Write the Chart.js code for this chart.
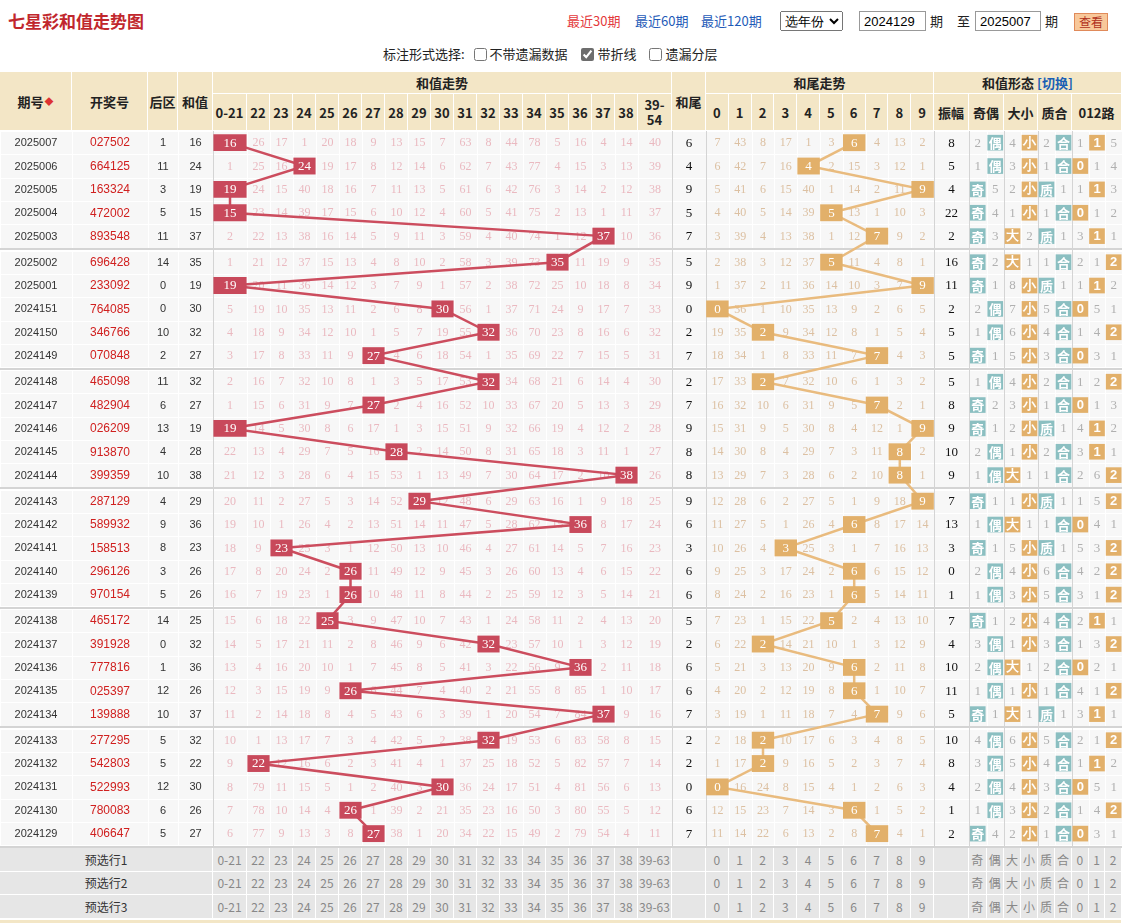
<!DOCTYPE html>
<html><head><meta charset="utf-8">
<script src="https://cdn.jsdelivr.net/npm/chart.js@4.4.1/dist/chart.umd.min.js"></script>
<style>
body{margin:0;background:#fff;font-family:"Noto Sans CJK SC","Noto Sans",sans-serif;}
#page{position:relative;width:1122px;height:924px;overflow:hidden;background:#fff;}
.a{position:absolute;white-space:nowrap;}
.hc{position:absolute;box-sizing:border-box;background:#f3e6c6;border-right:1px solid #fff;border-bottom:1px solid #fff;display:flex;align-items:center;justify-content:center;font-weight:bold;font-size:13px;color:#222;text-align:center;line-height:15px;}
.fc{position:absolute;box-sizing:border-box;background:#e6e6e6;border-right:1px solid #fff;border-bottom:1px solid #fff;display:flex;align-items:center;justify-content:center;font-size:12px;color:#888;}
#body{position:absolute;left:0;top:131px;}
input[type=checkbox]{accent-color:#6d6d6d;}
</style></head>
<body><div id="page">
<div class="a" style="left:8px;top:8px;font-size:17px;font-weight:bold;color:#c1272d;">七星彩和值走势图</div>
<div class="a" style="left:567px;top:11px;font-size:13px;color:#e4393c;">最近30期</div>
<div class="a" style="left:635px;top:11px;font-size:13px;color:#1e5bb8;">最近60期</div>
<div class="a" style="left:701px;top:11px;font-size:13px;color:#1e5bb8;">最近120期</div>
<select class="a" style="left:780px;top:11px;width:63px;height:20px;font-size:13px;padding:0;"><option>选年份</option></select>
<input class="a" style="left:859px;top:11px;width:67px;height:20px;box-sizing:border-box;font-size:13px;padding:0 4px;border:1px solid #999;" value="2024129">
<div class="a" style="left:930px;top:11px;font-size:13px;color:#222;">期</div>
<div class="a" style="left:957px;top:11px;font-size:13px;color:#222;">至</div>
<input class="a" style="left:975px;top:11px;width:66px;height:20px;box-sizing:border-box;font-size:13px;padding:0 4px;border:1px solid #999;" value="2025007">
<div class="a" style="left:1045px;top:11px;font-size:13px;color:#222;">期</div>
<div class="a" style="left:1074px;top:13px;width:34px;height:18px;box-sizing:border-box;background:#f8c89a;border:1px solid #e08a5a;font-size:12px;color:#b0301c;text-align:center;line-height:16px;">查看</div>
<div class="a" style="left:383px;top:44px;font-size:13px;color:#222;line-height:20px;">
<span>标注形式选择:</span>
<label><input type="checkbox" style="vertical-align:-2px;margin:0 3px 0 6px;">不带遗漏数据</label>
<label><input type="checkbox" checked style="vertical-align:-2px;margin:0 3px 0 11px;">带折线</label>
<label><input type="checkbox" style="vertical-align:-2px;margin:0 3px 0 10px;">遗漏分层</label>
</div>
<canvas id="body" width="1122" height="717"></canvas>
</div>
<script>
// ---------------- data ----------------
const periods = ['2025007','2025006','2025005','2025004','2025003','2025002','2025001','2024151','2024150','2024149','2024148','2024147','2024146','2024145','2024144','2024143','2024142','2024141','2024140','2024139','2024138','2024137','2024136','2024135','2024134','2024133','2024132','2024131','2024130','2024129'];
const drawNumbers = ['027502','664125','163324','472002','893548','696428','233092','764085','346766','070848','465098','482904','026209','913870','399359','287129','589932','158513','296126','970154','465172','391928','777816','025397','139888','277295','542803','522993','780083','406647'];
const backZone = [1,11,3,5,11,14,0,0,10,2,11,6,13,4,10,4,9,8,3,5,14,0,1,12,10,5,5,12,6,5];
const sums = [16,24,19,15,37,35,19,30,32,27,32,27,19,28,38,29,36,23,26,26,25,32,36,26,37,32,22,30,26,27];
const sumColumns = ['0-21','22','23','24','25','26','27','28','29','30','31','32','33','34','35','36','37','38','39-54'];
const sumFooter = ['0-21','22','23','24','25','26','27','28','29','30','31','32','33','34','35','36','37','38','39-63'];
const sumMiss = [
[0,26,17,1,20,18,9,13,15,7,63,8,44,78,5,16,4,14,40],
[1,25,16,0,19,17,8,12,14,6,62,7,43,77,4,15,3,13,39],
[0,24,15,40,18,16,7,11,13,5,61,6,42,76,3,14,2,12,38],
[0,23,14,39,17,15,6,10,12,4,60,5,41,75,2,13,1,11,37],
[2,22,13,38,16,14,5,9,11,3,59,4,40,74,1,12,0,10,36],
[1,21,12,37,15,13,4,8,10,2,58,3,39,73,0,11,19,9,35],
[0,20,11,36,14,12,3,7,9,1,57,2,38,72,25,10,18,8,34],
[5,19,10,35,13,11,2,6,8,0,56,1,37,71,24,9,17,7,33],
[4,18,9,34,12,10,1,5,7,19,55,0,36,70,23,8,16,6,32],
[3,17,8,33,11,9,0,4,6,18,54,1,35,69,22,7,15,5,31],
[2,16,7,32,10,8,1,3,5,17,53,0,34,68,21,6,14,4,30],
[1,15,6,31,9,7,0,2,4,16,52,10,33,67,20,5,13,3,29],
[0,14,5,30,8,6,17,1,3,15,51,9,32,66,19,4,12,2,28],
[22,13,4,29,7,5,16,0,2,14,50,8,31,65,18,3,11,1,27],
[21,12,3,28,6,4,15,53,1,13,49,7,30,64,17,2,10,0,26],
[20,11,2,27,5,3,14,52,0,12,48,6,29,63,16,1,9,18,25],
[19,10,1,26,4,2,13,51,14,11,47,5,28,62,15,0,8,17,24],
[18,9,0,25,3,1,12,50,13,10,46,4,27,61,14,5,7,16,23],
[17,8,20,24,2,0,11,49,12,9,45,3,26,60,13,4,6,15,22],
[16,7,19,23,1,0,10,48,11,8,44,2,25,59,12,3,5,14,21],
[15,6,18,22,0,3,9,47,10,7,43,1,24,58,11,2,4,13,20],
[14,5,17,21,11,2,8,46,9,6,42,0,23,57,10,1,3,12,19],
[13,4,16,20,10,1,7,45,8,5,41,3,22,56,9,0,2,11,18],
[12,3,15,19,9,0,6,44,7,4,40,2,21,55,8,85,1,10,17],
[11,2,14,18,8,4,5,43,6,3,39,1,20,54,7,84,0,9,16],
[10,1,13,17,7,3,4,42,5,2,38,0,19,53,6,83,58,8,15],
[9,0,12,16,6,2,3,41,4,1,37,25,18,52,5,82,57,7,14],
[8,79,11,15,5,1,2,40,3,0,36,24,17,51,4,81,56,6,13],
[7,78,10,14,4,0,1,39,2,21,35,23,16,50,3,80,55,5,12],
[6,77,9,13,3,8,0,38,1,20,34,22,15,49,2,79,54,4,11]];
const tails = [6,4,9,5,7,5,9,0,2,7,2,7,9,8,8,9,6,3,6,6,5,2,6,6,7,2,2,0,6,7];
const tailColumns = ['0','1','2','3','4','5','6','7','8','9'];
const tailMiss = [
[7,43,8,17,1,3,0,4,13,2],[6,42,7,16,0,2,15,3,12,1],[5,41,6,15,40,1,14,2,11,0],[4,40,5,14,39,0,13,1,10,3],[3,39,4,13,38,1,12,0,9,2],
[2,38,3,12,37,0,11,4,8,1],[1,37,2,11,36,14,10,3,7,0],[0,36,1,10,35,13,9,2,6,5],[19,35,0,9,34,12,8,1,5,4],[18,34,1,8,33,11,7,0,4,3],
[17,33,0,7,32,10,6,1,3,2],[16,32,10,6,31,9,5,0,2,1],[15,31,9,5,30,8,4,12,1,0],[14,30,8,4,29,7,3,11,0,2],[13,29,7,3,28,6,2,10,0,1],
[12,28,6,2,27,5,1,9,18,0],[11,27,5,1,26,4,0,8,17,14],[10,26,4,0,25,3,1,7,16,13],[9,25,3,17,24,2,0,6,15,12],[8,24,2,16,23,1,0,5,14,11],
[7,23,1,15,22,0,2,4,13,10],[6,22,0,14,21,10,1,3,12,9],[5,21,3,13,20,9,0,2,11,8],[4,20,2,12,19,8,0,1,10,7],[3,19,1,11,18,7,4,0,9,6],
[2,18,0,10,17,6,3,4,8,5],[1,17,0,9,16,5,2,3,7,4],[0,16,24,8,15,4,1,2,6,3],[12,15,23,7,14,3,0,1,5,2],[11,14,22,6,13,2,8,0,4,1]];
const amplitude = [8,5,4,22,2,16,11,2,5,5,5,8,9,10,9,7,13,3,0,1,7,4,10,11,5,10,8,4,1,2];
const oddEvenHit = ['偶','偶','奇','奇','奇','奇','奇','偶','偶','奇','偶','奇','奇','偶','偶','奇','偶','奇','偶','偶','奇','偶','偶','偶','奇','偶','偶','偶','偶','奇'];
const oddEvenMiss = [2,1,5,4,3,2,1,2,1,1,1,2,1,2,1,1,1,1,2,1,1,3,2,1,1,4,3,2,1,4];
const bigSmallHit = ['小','小','小','小','大','大','小','小','小','小','小','小','小','小','大','小','大','小','小','小','小','小','大','小','大','小','小','小','小','小'];
const bigSmallMiss = [4,3,2,1,2,1,8,7,6,5,4,3,2,1,1,1,1,5,4,3,2,1,1,1,1,6,5,4,3,2];
const primeCompHit = ['合','合','质','合','质','合','质','合','合','合','合','合','质','合','合','质','合','质','合','合','合','合','合','合','质','合','合','合','合','合'];
const primeCompMiss = [2,1,1,1,1,1,1,5,4,3,2,1,1,2,1,1,1,1,6,5,4,3,2,1,1,5,4,3,2,1];
const road012 = [ // 0 marks the hit route
[1,0,5],[0,1,4],[1,0,3],[0,1,2],[3,0,1],[2,1,0],[1,0,2],[0,5,1],[1,4,0],[0,3,1],
[1,2,0],[0,1,3],[4,0,2],[3,0,1],[2,6,0],[1,5,0],[0,4,1],[5,3,0],[4,2,0],[3,1,0],
[2,0,1],[1,3,0],[0,2,1],[4,1,0],[3,0,1],[2,1,0],[1,0,2],[0,5,1],[1,4,0],[0,3,1]];
const footerRows = ['预选行1','预选行2','预选行3'];

// ---------------- layout ----------------
const page = document.getElementById('page');
function edges(start, widths){const e=[start];widths.forEach(w=>e.push(e[e.length-1]+w));return e;}
const LEFT_E = [0,72,148,178,213];
const SUM_E = edges(213,[34].concat(Array(17).fill(23),[34]));
const TAILV_E = [672,706];
const TAIL_E = edges(706,Array(10).fill(22.8));
const AMP_E = [934,969];
const OE_E = [969,986.5,1004];
const BS_E = [1004,1021,1038];
const PC_E = [1038,1055,1072];
const RD_E = [1072,1088.7,1105.3,1122];
const HEAD_TOP = 72, HEAD_MID = 94, BODY_TOP = 131;
const GROUP_GAP = 0.1156; // gap between groups of five rows, in row units
const yOf = i => i + Math.floor(i/5)*GROUP_GAP + 0.5;
const Y_MAX = 30 + 6*GROUP_GAP;
const mid = (e,k) => (e[k]+e[k+1])/2;
const sumCol = s => s <= 21 ? 0 : (s >= 39 ? 18 : s - 21);

// ---------------- header (HTML) ----------------
function cell(cls,x0,x1,y0,y1,html){const d=document.createElement('div');d.className=cls;d.style.left=x0+'px';d.style.top=y0+'px';d.style.width=(x1-x0)+'px';d.style.height=(y1-y0)+'px';d.innerHTML=html;page.appendChild(d);}
const leftHeads = ['期号<span style="color:#d33;font-size:9px;margin-left:1px;">◆</span>','开奖号','后区','和值'];
leftHeads.forEach((h,k)=>cell('hc',LEFT_E[k],LEFT_E[k+1],HEAD_TOP,BODY_TOP,h));
cell('hc',TAILV_E[0],TAILV_E[1],HEAD_TOP,BODY_TOP,'和尾');
cell('hc',SUM_E[0],SUM_E[SUM_E.length-1],HEAD_TOP,HEAD_MID,'和值走势');
cell('hc',TAIL_E[0],TAIL_E[10],HEAD_TOP,HEAD_MID,'和尾走势');
cell('hc',AMP_E[0],1122,HEAD_TOP,HEAD_MID,'和值形态 <span style="color:#1a5fb4;margin-left:3px;">[切换]</span>');
sumColumns.forEach((c,k)=>cell('hc',SUM_E[k],SUM_E[k+1],HEAD_MID,BODY_TOP,c==='39-54'?'39-<br>54':c));
tailColumns.forEach((c,k)=>cell('hc',TAIL_E[k],TAIL_E[k+1],HEAD_MID,BODY_TOP,c));
[['振幅',AMP_E[0],AMP_E[1]],['奇偶',OE_E[0],OE_E[2]],['大小',BS_E[0],BS_E[2]],['质合',PC_E[0],PC_E[2]],['012路',RD_E[0],RD_E[3]]].forEach(h=>cell('hc',h[1],h[2],HEAD_MID,BODY_TOP,h[0]));

// ---------------- footer (HTML) ----------------
const FOOT_TOP = BODY_TOP + 717, FOOT_H = 23.5;
footerRows.forEach((lab,r)=>{
  const y0 = FOOT_TOP + r*FOOT_H, y1 = y0 + FOOT_H;
  cell('fc',0,213,y0,y1,'<span style="color:#333">'+lab+'</span>');
  sumFooter.forEach((c,k)=>cell('fc',SUM_E[k],SUM_E[k+1],y0,y1,c));
  cell('fc',TAILV_E[0],TAILV_E[1],y0,y1,'');
  tailColumns.forEach((c,k)=>cell('fc',TAIL_E[k],TAIL_E[k+1],y0,y1,c));
  cell('fc',AMP_E[0],AMP_E[1],y0,y1,'');
  ['奇','偶'].forEach((c,k)=>cell('fc',OE_E[k],OE_E[k+1],y0,y1,c));
  ['大','小'].forEach((c,k)=>cell('fc',BS_E[k],BS_E[k+1],y0,y1,c));
  ['质','合'].forEach((c,k)=>cell('fc',PC_E[k],PC_E[k+1],y0,y1,c));
  ['0','1','2'].forEach((c,k)=>cell('fc',RD_E[k],RD_E[k+1],y0,y1,c));
});
cell('hc',0,1122,FOOT_TOP+3*FOOT_H+1,924,'');

// ---------------- chart ----------------
const RED='#c8495b', ORANGE='#e2b06a', TEAL='#8bbfc1';
const sumBoxes = sums.map((s,i)=>{const c=sumCol(s);return {x:[SUM_E[c]+0.75,SUM_E[c+1]-0.75],y:yOf(i)};});
const sumLine = sums.map((s,i)=>({x:mid(SUM_E,sumCol(s)),y:yOf(i)}));
const tailBoxes = tails.map((t,i)=>({x:[TAIL_E[t]+0.5,TAIL_E[t+1]-0.5],y:yOf(i)}));
const tailLine = tails.map((t,i)=>({x:mid(TAIL_E,t),y:yOf(i)}));
const tag = (e,k,i)=>{const c=mid(e,k);return {x:[c-7.5,c+7.5],y:yOf(i)};};
const tealTags=[], tealText=[], orangeTags=[], orangeText=[];
periods.forEach((p,i)=>{
  const oe = oddEvenHit[i]==='奇'?0:1; tealTags.push(tag(OE_E,oe,i)); tealText.push(oddEvenHit[i]);
  const pc = primeCompHit[i]==='质'?0:1; tealTags.push(tag(PC_E,pc,i)); tealText.push(primeCompHit[i]);
  const bs = bigSmallHit[i]==='大'?0:1; orangeTags.push(tag(BS_E,bs,i)); orangeText.push(bigSmallHit[i]);
  const rd = road012[i].indexOf(0); orangeTags.push(tag(RD_E,rd,i)); orangeText.push(String(rd));
});

const gridPlugin = {
  id:'grid',
  beforeDatasetsDraw(chart){
    const ctx=chart.ctx, xs=chart.scales.x, ys=chart.scales.y;
    ctx.save();
    ctx.fillStyle='#fff'; ctx.fillRect(0,0,chart.width,chart.height);
    const colsAll=[];
    const addCols=e=>{for(let k=0;k<e.length-1;k++)colsAll.push([e[k],e[k+1]]);};
    [LEFT_E,SUM_E,TAILV_E,TAIL_E,AMP_E,OE_E,BS_E,PC_E,RD_E].forEach(addCols);
    periods.forEach((p,i)=>{
      const y0=Math.round(ys.getPixelForValue(yOf(i)-0.5)), y1=Math.round(ys.getPixelForValue(yOf(i)+0.5));
      ctx.fillStyle='#f7f7f7';
      colsAll.forEach(c=>{const x0=Math.round(xs.getPixelForValue(c[0])),x1=Math.round(xs.getPixelForValue(c[1]));ctx.fillRect(x0+1,y0+1,x1-x0-1,y1-y0-1);});
    });
    // section separators
    ctx.fillStyle='#d4d4d4';
    [213,672,706,934,969,1004,1038,1072].forEach(v=>{const x=Math.round(xs.getPixelForValue(v));ctx.fillRect(x,0,1,chart.height);});
    for(let g=1;g<=6;g++){const y=ys.getPixelForValue(yOf(g*5-1)+0.5+GROUP_GAP/2);ctx.fillRect(0,Math.round(y-1),chart.width,2);}
    // texts
    ctx.textAlign='center'; ctx.textBaseline='middle';
    const T=(s,x,y,font,color)=>{ctx.font=font;ctx.fillStyle=color;ctx.fillText(String(s),xs.getPixelForValue(x),ys.getPixelForValue(y)+0.5);};
    const SER='12px "Liberation Serif"', SER13='13px "Liberation Serif"', SANS='11px "Liberation Sans"';
    periods.forEach((p,i)=>{
      const y=yOf(i);
      T(p,mid(LEFT_E,0),y,SANS,'#333');
      T(drawNumbers[i],mid(LEFT_E,1),y,'12px "Liberation Sans"','#d0201f');
      T(backZone[i],mid(LEFT_E,2),y,SANS,'#333');
      T(sums[i],mid(LEFT_E,3),y,SANS,'#333');
      const sc=sumCol(sums[i]);
      sumMiss[i].forEach((v,k)=>{if(k!==sc)T(v,mid(SUM_E,k),y,SER,'#eab9c0');});
      T(tails[i],mid(TAILV_E,0),y,SER13,'#111');
      tailMiss[i].forEach((v,k)=>{if(k!==tails[i])T(v,mid(TAIL_E,k),y,SER,'#dcc0a2');});
      T(amplitude[i],mid(AMP_E,0),y,SER13,'#111');
      T(oddEvenMiss[i],mid(OE_E,oddEvenHit[i]==='奇'?1:0),y,SER13,'#b0b0b0');
      T(bigSmallMiss[i],mid(BS_E,bigSmallHit[i]==='大'?1:0),y,SER13,'#b0b0b0');
      T(primeCompMiss[i],mid(PC_E,primeCompHit[i]==='质'?1:0),y,SER13,'#b0b0b0');
      road012[i].forEach((v,k)=>{if(v!==0)T(v,mid(RD_E,k),y,SER13,'#b0b0b0');});
    });
    ctx.restore();
  },
  afterDatasetsDraw(chart){
    const ctx=chart.ctx; ctx.save(); ctx.textAlign='center'; ctx.textBaseline='middle'; ctx.fillStyle='#fff';
    chart.data.datasets.forEach((ds,di)=>{
      if(!ds.boxText) return;
      ctx.font=ds.boxFont;
      chart.getDatasetMeta(di).data.forEach((el,j)=>{const c=el.getCenterPoint();ctx.fillText(ds.boxText[j],c.x,c.y+0.5);});
    });
    ctx.restore();
  }
};

const barCommon = {type:'bar',indexAxis:'y',grouped:false,categoryPercentage:1,barPercentage:1,borderWidth:0,borderSkipped:false,order:1};
new Chart(document.getElementById('body'),{
  type:'bar',
  data:{datasets:[
    {type:'scatter',showLine:true,data:sumLine,borderColor:'#cc4d5e',borderWidth:2.5,pointRadius:0,tension:0,order:2},
    {type:'scatter',showLine:true,data:tailLine,borderColor:'#e9bb7e',borderWidth:2.5,pointRadius:0,tension:0,order:2},
    Object.assign({},barCommon,{data:sumBoxes,backgroundColor:RED,maxBarThickness:22,boxText:sums.map(String),boxFont:'13px "Liberation Serif"'}),
    Object.assign({},barCommon,{data:tailBoxes,backgroundColor:ORANGE,maxBarThickness:22,boxText:tails.map(String),boxFont:'13px "Liberation Serif"'}),
    Object.assign({},barCommon,{data:tealTags,backgroundColor:TEAL,maxBarThickness:15,boxText:tealText,boxFont:'bold 13px "Noto Sans CJK SC"'}),
    Object.assign({},barCommon,{data:orangeTags,backgroundColor:ORANGE,maxBarThickness:15,boxText:orangeText,boxFont:'bold 13px "Liberation Sans"'})
  ]},
  options:{
    responsive:false, animation:false, events:[],
    layout:{padding:0},
    plugins:{legend:{display:false},tooltip:{enabled:false}},
    scales:{
      x:{type:'linear',min:0,max:1122,display:false,offset:false,grid:{offset:false}},
      y:{type:'linear',min:0,max:Y_MAX,reverse:true,display:false,offset:false,grid:{offset:false}}
    }
  },
  plugins:[gridPlugin]
});
</script>
</body></html>
